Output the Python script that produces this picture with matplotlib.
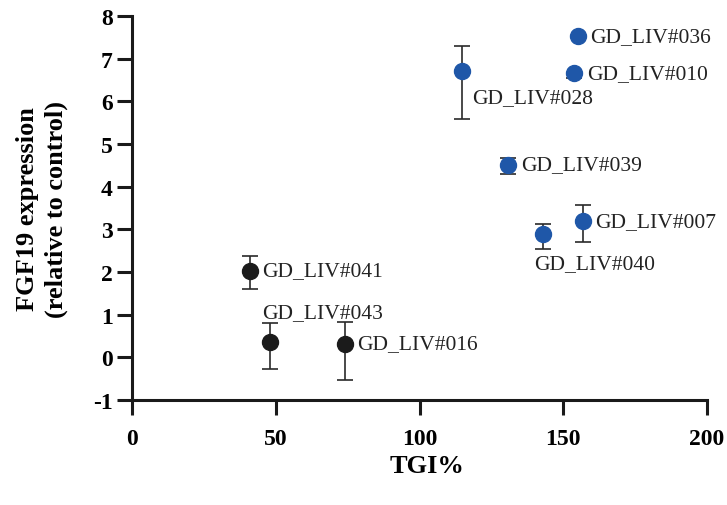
import matplotlib
matplotlib.use("Agg")
import matplotlib.pyplot as plt

plt.rcParams['font.family'] = ['Liberation Serif', 'DejaVu Serif']
plt.rcParams['axes.unicode_minus'] = False

# TGI% vs FGF19 expression, per model
names = ['GD_LIV#041', 'GD_LIV#043', 'GD_LIV#016',
         'GD_LIV#028', 'GD_LIV#036', 'GD_LIV#010',
         'GD_LIV#039', 'GD_LIV#040', 'GD_LIV#007']
tgi = [41.0, 48.0, 74.1, 114.9, 155.0, 153.9, 130.9, 143.1, 156.9]
fgf19 = [2.03, 0.37, 0.32, 6.70, 7.52, 6.66, 4.51, 2.88, 3.19]
err_low = [0.44, 0.64, 0.84, 1.11, 0.0, 0.12, 0.21, 0.34, 0.49]
err_high = [0.34, 0.44, 0.51, 0.60, 0.0, 0.0, 0.16, 0.25, 0.37]
groups = ['low', 'low', 'low', 'high', 'high', 'high', 'high', 'high', 'high']

# label offsets in points (dx, dy)
label_pos = {
    'GD_LIV#041': (9, 0),
    'GD_LIV#043': (-6, 21),
    'GD_LIV#016': (9, 0),
    'GD_LIV#028': (7, -19),
    'GD_LIV#036': (9, 0),
    'GD_LIV#010': (9, 0),
    'GD_LIV#039': (9, 0),
    'GD_LIV#040': (-7, -21),
    'GD_LIV#007': (9, 0),
}
colors = {'low': '#1b1b1b', 'high': '#1f57a8'}

fig = plt.figure(figsize=(7.27, 5.06), dpi=100)
ax = fig.add_axes([0.1816, 0.2075, 0.7909, 0.7589])

for i in range(len(names)):
    ax.errorbar(tgi[i], fgf19[i], yerr=[[err_low[i]], [err_high[i]]],
                fmt='o', color=colors[groups[i]], ecolor='#2a2a2a',
                elinewidth=1.2, capsize=5.5, capthick=1.2, markersize=11.5,
                zorder=3)
    dx, dy = label_pos[names[i]]
    ax.annotate(names[i], (tgi[i], fgf19[i]), xytext=(dx, dy),
                textcoords='offset points', ha='left', va='center',
                fontsize=15.5, color='#222222')

ax.set_xlim(0, 200)
ax.set_ylim(-1, 8)
ax.set_xticks([0, 50, 100, 150, 200])
ax.set_yticks(range(-1, 9))
for s in ['top', 'right']:
    ax.spines[s].set_visible(False)
for s in ['left', 'bottom']:
    ax.spines[s].set_linewidth(2.2)
    ax.spines[s].set_color('#1a1a1a')
ax.tick_params(width=2.2, length=11, color='#1a1a1a', labelsize=17)
ax.tick_params(axis='x', pad=9)
ax.tick_params(axis='y', pad=3)
for lbl in ax.get_xticklabels() + ax.get_yticklabels():
    lbl.set_fontweight('bold')

ax.set_xlabel('TGI%', fontsize=19, fontweight='bold', va='center')
ax.xaxis.set_label_coords(0.513, -0.17)
ax.set_ylabel('FGF19 expression\n(relative to control)', fontsize=19,
              fontweight='bold', linespacing=1.3, va='center')
ax.yaxis.set_label_coords(-0.157, 0.5)

fig.savefig('out.png', dpi=100)
